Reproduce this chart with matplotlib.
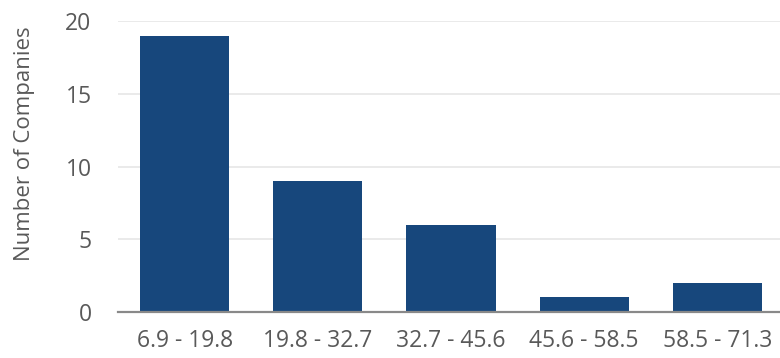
import matplotlib
matplotlib.use("Agg")
import matplotlib.pyplot as plt

# DATA
bins = ["6.9 - 19.8", "19.8 - 32.7", "32.7 - 45.6", "45.6 - 58.5", "58.5 - 71.3"]
counts = [19, 9, 6, 1, 2]
y_ticks = [0, 5, 10, 15, 20]

BAR_COLOR = "#17477C"
TEXT_COLOR = "#595959"

plt.rcParams['font.family'] = ['Open Sans', 'DejaVu Sans']

fig = plt.figure(figsize=(7.8, 3.58), dpi=100)
ax = fig.add_axes([118 / 780, 1 - 312 / 358, 666 / 780, 291 / 358])

ax.bar(range(len(bins)), counts, width=0.67, color=BAR_COLOR, zorder=3)

ax.set_xlim(-0.5, len(bins) - 0.5)
ax.set_ylim(0, 20)
ax.set_yticks(y_ticks)
ax.set_xticks(range(len(bins)))
ax.set_xticklabels(bins)

ax.grid(axis='y', color="#E6E6E6", linewidth=1.2, zorder=0)
for side in ['top', 'right', 'left']:
    ax.spines[side].set_visible(False)
ax.spines['bottom'].set_color("#898989")
ax.spines['bottom'].set_linewidth(1.6)
ax.spines['bottom'].set_zorder(4)

ax.tick_params(axis='both', length=0, labelsize=16.5, colors=TEXT_COLOR)
ax.tick_params(axis='x', pad=12)
ax.tick_params(axis='y', pad=19)
ax.set_ylabel("Number of Companies", fontsize=16, color=TEXT_COLOR)
# label sits a bit above the plot centre, like the original
ax.yaxis.set_label_coords(-0.124, 0.58)

fig.savefig("out.png", dpi=100)
